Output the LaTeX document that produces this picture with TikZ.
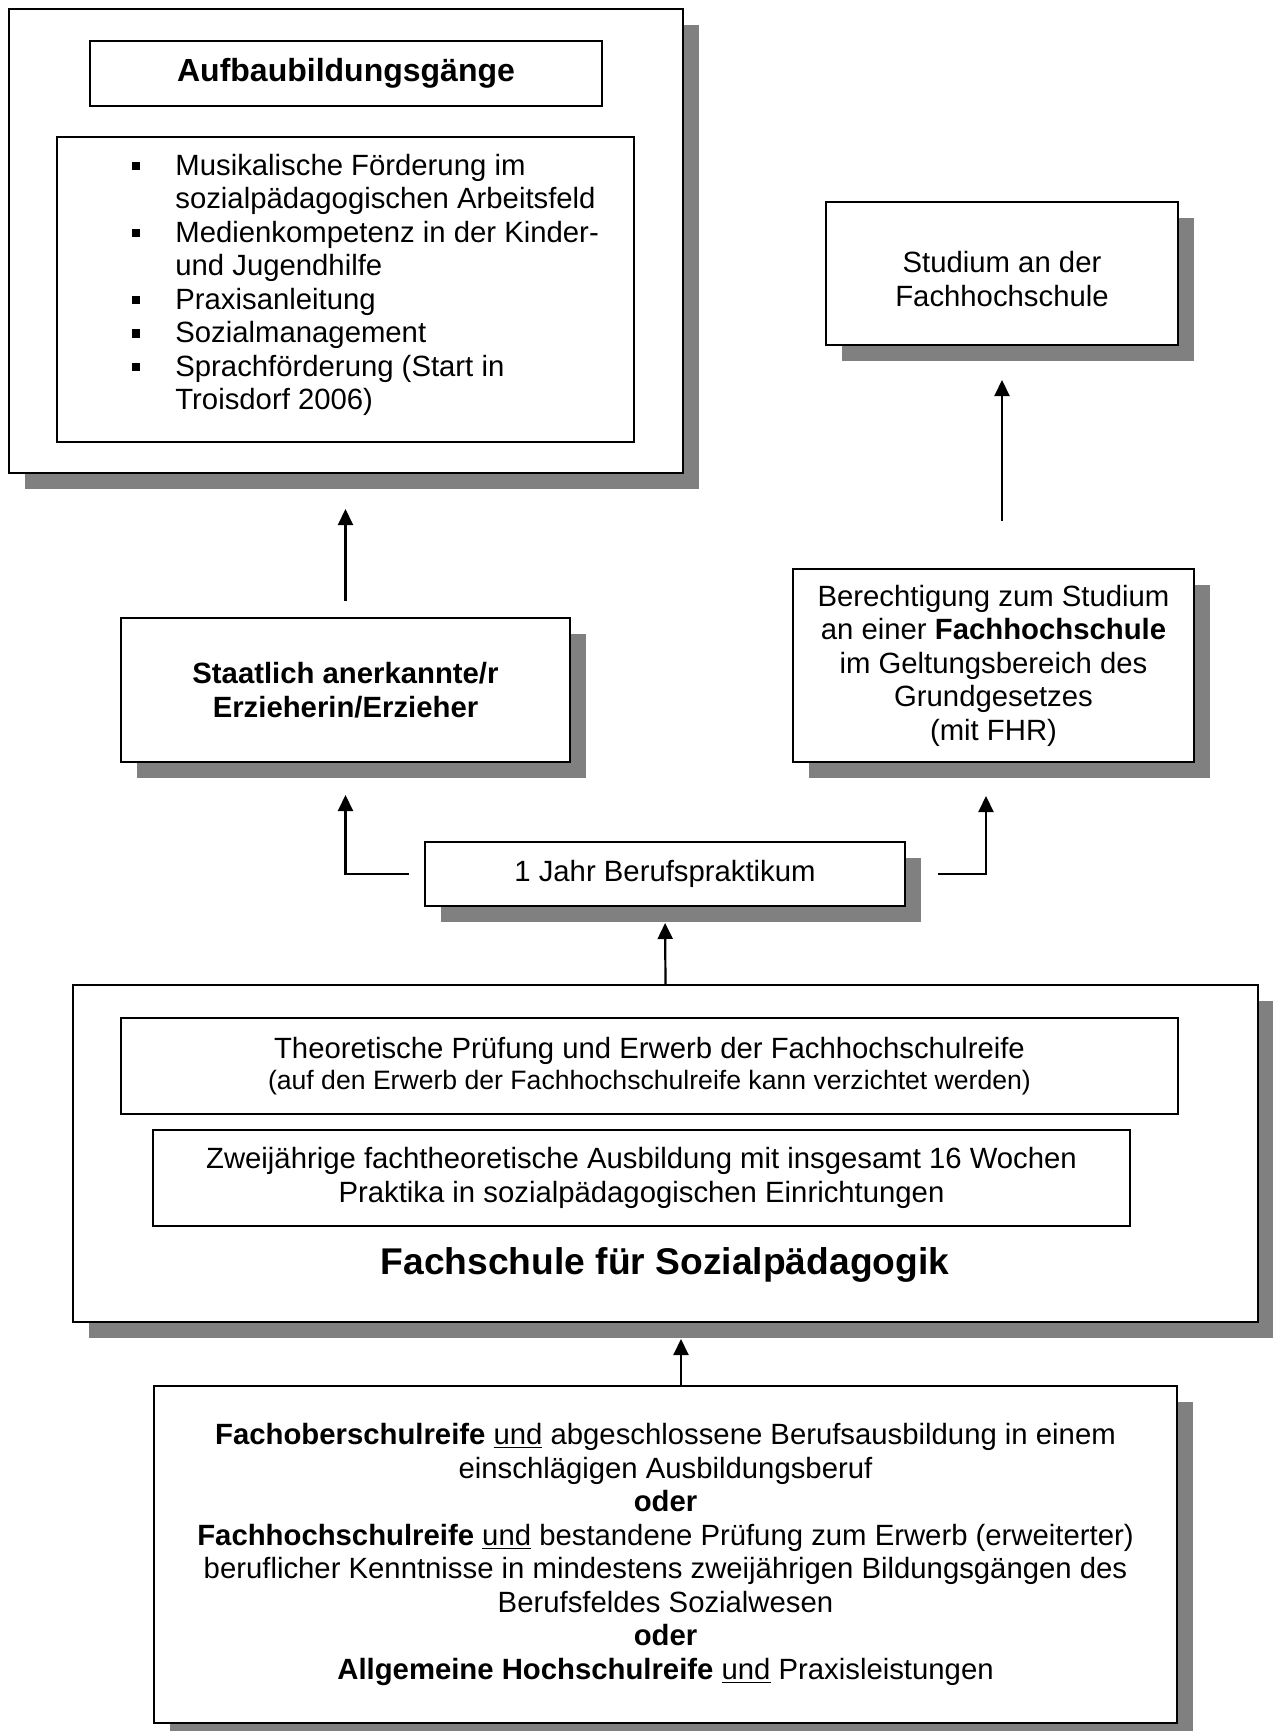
\documentclass[tikz,border=0pt]{standalone}
\usepackage{fontspec}
\setmainfont{Liberation Sans}
\usetikzlibrary{positioning,shadows,arrows.meta,calc}
\definecolor{shadowgray}{HTML}{808080}
\newcommand{\normtext}{\fontsize{14.65}{16.75}\selectfont}
\newcommand{\smalltext}{\fontsize{13.3}{15.5}\selectfont}
\newcommand{\bul}{\makebox[21.5pt][l]{\rule[2.6pt]{3.8pt}{4.2pt}}}
\newcommand{\cont}{\hspace*{21.5pt}}

\begin{document}
\begin{tikzpicture}[x=0.5pt,y=-0.5pt,
    panel/.style 2 args={draw, line width=1pt, fill=white, inner sep=0pt,
        minimum width=#1*0.5pt, minimum height=#2*0.5pt, font=\normtext, align=center},
    shadowed/.style={drop shadow={shadow xshift=8pt, shadow yshift=-8pt, fill=shadowgray, opacity=1}},
    flow/.style={-{Triangle[length=8pt,width=7.5pt]}, line width=1.1pt}]
    \useasboundingbox (0,0) rectangle (1273,1731);

    % Aufbaubildungsgaenge
    \node[panel={674}{464}, shadowed] (aufbau) at (346,241) {};
    \node[panel={512}{65}, font=\fontsize{16}{19}\selectfont\bfseries] (aufbautitle) at (346,73.5) {Aufbaubildungsgänge};
    \node[panel={577}{305}] (listbox) at (345.5,289.5) {};
    \node[anchor=west, align=left, inner sep=0pt, font=\normtext] (listtext) at (132,285)
        {\bul Musikalische Förderung im\\\cont sozialpädagogischen Arbeitsfeld\\\bul Medienkompetenz in der Kinder-\\\cont und Jugendhilfe\\\bul Praxisanleitung\\\bul Sozialmanagement\\\bul Sprachförderung (Start in\\\cont Troisdorf 2006)};

    % Studium
    \node[panel={352}{143}, shadowed] (studium) at (1002,273.5) {\rule{0pt}{16pt}Studium an der\\Fachhochschule};

    % Abschluesse
    \node[panel={449}{144}, shadowed, font=\normtext\bfseries] (erzieher) at (345.5,690) {Staatlich anerkannte/r\\Erzieherin/Erzieher};
    \node[panel={401}{193}, shadowed] (berechtigung) at (993.5,665.5)
        {Berechtigung zum Studium\\an einer \textbf{Fachhochschule}\\im Geltungsbereich des\\Grundgesetzes\\(mit FHR)};

    % Berufspraktikum
    \node[panel={480}{64}, shadowed] (praktikum) at (665,874) {1 Jahr Berufspraktikum};

    % Fachschule
    \node[panel={1185}{337}, shadowed] (fachschule) at (665.5,1153.5) {};
    \node[panel={1057}{96}] (pruefung) at (649.5,1066)
        {Theoretische Prüfung und Erwerb der Fachhochschulreife\\[-1.25pt]{\smalltext (auf den Erwerb der Fachhochschulreife kann verzichtet werden)}};
    \node[panel={977}{96}] (ausbildung) at (641.5,1178)
        {Zweijährige fachtheoretische Ausbildung mit insgesamt 16 Wochen\\Praktika in sozialpädagogischen Einrichtungen};
    \node[font=\fontsize{18.6}{22}\selectfont\bfseries] (fstitle) at (665,1265) {Fachschule für Sozialpädagogik};

    % Zugangsvoraussetzungen
    \node[panel={1023}{337}, shadowed] (zugang) at (665.5,1554.5)
        {\textbf{Fachoberschulreife} \underline{und} abgeschlossene Berufsausbildung in einem\\einschlägigen Ausbildungsberuf\\\textbf{oder}\\\textbf{Fachhochschulreife} \underline{und} bestandene Prüfung zum Erwerb (erweiterter)\\beruflicher Kenntnisse in mindestens zweijährigen Bildungsgängen des\\Berufsfeldes Sozialwesen\\\textbf{oder}\\\textbf{Allgemeine Hochschulreife} \underline{und} Praxisleistungen};

    % Pfeile
    \draw[flow, shorten <=8pt, shorten >=17.5pt] (erzieher.north) -- (erzieher.north |- aufbau.south);
    \draw[flow, shorten <=23.5pt, shorten >=17pt] (studium.south |- berechtigung.north) -- (studium.south);
    \draw[flow, shorten <=7.5pt, shorten >=16pt] (praktikum.west) -| (erzieher.south);
    \draw[flow, shorten <=16pt, shorten >=16.5pt] (praktikum.east) -| ([xshift=-3.75pt]berechtigung.south);
    \draw[flow, shorten >=8pt] (fachschule.north) -- (praktikum.south);
    \draw[flow, shorten >=8pt] ([xshift=7.75pt]zugang.north) -- ([xshift=7.75pt]zugang.north |- fachschule.south);
\end{tikzpicture}
\end{document}
